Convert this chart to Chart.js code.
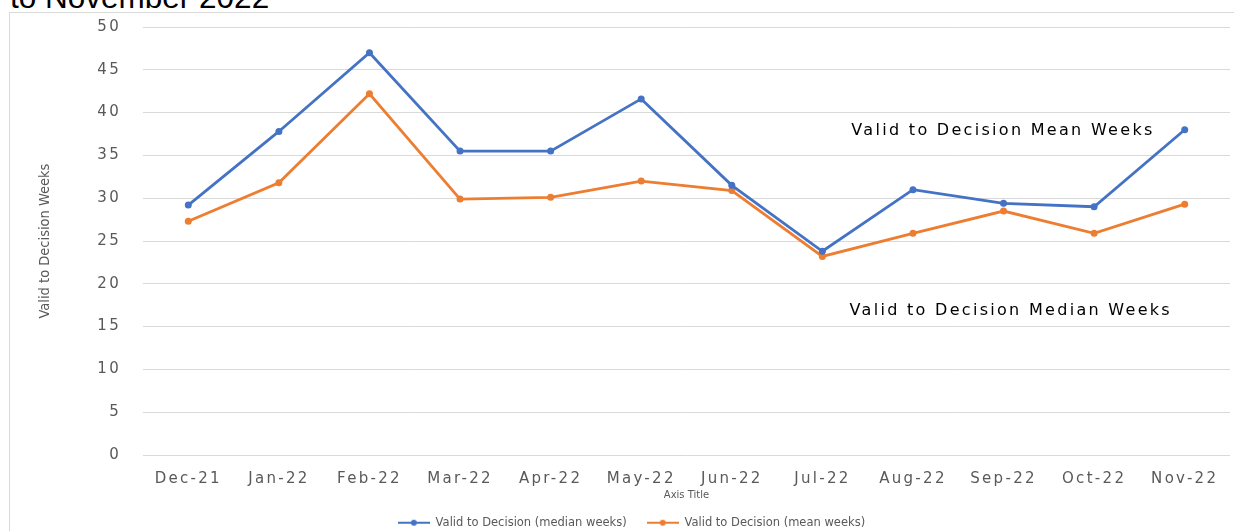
<!DOCTYPE html>
<html>
<head>
<meta charset="utf-8">
<script src="https://cdn.jsdelivr.net/npm/chart.js@4.4.1/dist/chart.umd.min.js"></script>
<style>
    body { margin: 0; background: #fff; overflow: hidden; }
    #wrap { position: relative; width: 1234px; height: 531px; }
    #title { position: absolute; left: 10px; top: -16px; font: 31.5px 'Liberation Sans', Arial, sans-serif; line-height: 26px; color: #000; white-space: nowrap; }
    #frame { position: absolute; left: 9px; top: 12px; width: 1240px; height: 540px; border: 1px solid #d9d9d9; box-sizing: border-box; }
    #chart { position: absolute; left: 0; top: 0; }
</style>
</head>
<body>
<div id="wrap">
    <div id="frame"></div>
    <div id="title">to November 2022</div>
    <canvas id="chart" width="1234" height="531"></canvas>
</div>
<script>
// categories and values
const months = ['Dec-21', 'Jan-22', 'Feb-22', 'Mar-22', 'Apr-22', 'May-22', 'Jun-22', 'Jul-22', 'Aug-22', 'Sep-22', 'Oct-22', 'Nov-22'];
const medianWeeks = [29.2, 37.8, 47.0, 35.5, 35.5, 41.6, 31.5, 23.8, 31.0, 29.4, 29.0, 38.0];
const meanWeeks = [27.3, 31.8, 42.2, 29.9, 30.1, 32.0, 30.9, 23.2, 25.9, 28.5, 25.9, 29.3];
const seriesNames = ['Valid to Decision (median weeks)', 'Valid to Decision (mean weeks)'];
const notes = ['Valid to Decision Mean Weeks', 'Valid to Decision Median Weeks'];

const BLUE = '#4472c4';
const ORANGE = '#ed7d31';
const GREY = '#595959';
const SPACED = '2.3px';

function legendMarker(color) {
    const c = document.createElement('canvas');
    c.width = 32; c.height = 8;
    const g = c.getContext('2d');
    g.strokeStyle = color;
    g.lineWidth = 2;
    g.beginPath(); g.moveTo(0, 4); g.lineTo(32, 4); g.stroke();
    g.fillStyle = color;
    g.beginPath(); g.arc(16, 4, 3, 0, Math.PI * 2); g.fill();
    return c;
}
const markers = [legendMarker(BLUE), legendMarker(ORANGE)];

// letter spacing only for tick labels and the two notes (drawn after datasets)
const spacing = {
    id: 'spacing',
    beforeDraw(chart) { chart.ctx.letterSpacing = '0px'; },
    afterDatasetsDraw(chart) { chart.ctx.letterSpacing = SPACED; },
    afterDraw(chart) {
        const { ctx, scales: { x, y } } = chart;
        ctx.save();
        ctx.letterSpacing = SPACED;
        ctx.font = '16px "DejaVu Sans", sans-serif';
        ctx.fillStyle = '#000';
        ctx.textAlign = 'left';
        ctx.textBaseline = 'middle';
        ctx.fillText(notes[0], x.getPixelForValue(7.32), y.getPixelForValue(37.85));
        ctx.fillText(notes[1], x.getPixelForValue(7.30), y.getPixelForValue(16.8));
        ctx.restore();
        ctx.letterSpacing = '0px';
    }
};

new Chart(document.getElementById('chart').getContext('2d'), {
    type: 'line',
    data: {
        labels: months,
        datasets: [{
            label: seriesNames[0],
            data: medianWeeks,
            borderColor: BLUE,
            backgroundColor: BLUE,
            borderWidth: 2.8,
            pointRadius: 3.5,
            pointBorderWidth: 0,
            tension: 0
        }, {
            label: seriesNames[1],
            data: meanWeeks,
            borderColor: ORANGE,
            backgroundColor: ORANGE,
            borderWidth: 2.8,
            pointRadius: 3.5,
            pointBorderWidth: 0,
            tension: 0
        }]
    },
    options: {
        responsive: false,
        animation: false,
        layout: { padding: { left: 33, right: 4, top: 27, bottom: -7.5 } },
        plugins: {
            legend: {
                position: 'bottom',
                labels: {
                    usePointStyle: true,
                    pointStyleWidth: 32,
                    padding: 20,
                    color: GREY,
                    font: { family: 'DejaVu Sans', size: 11.5 },
                    generateLabels(chart) {
                        const items = Chart.defaults.plugins.legend.labels.generateLabels(chart);
                        items.forEach((it, i) => { it.pointStyle = markers[i]; });
                        return items;
                    }
                }
            },
            tooltip: { enabled: false }
        },
        scales: {
            x: {
                offset: true,
                grid: { display: false },
                border: { display: false },
                ticks: { color: GREY, padding: 7, z: 1, font: { family: 'DejaVu Sans', size: 15 } },
                title: { display: true, text: 'Axis Title', color: GREY, padding: { top: 0, bottom: -4 }, font: { family: 'DejaVu Sans', size: 10 } },
                afterFit(scale) { scale.height = 42; }
            },
            y: {
                min: 0,
                max: 50,
                grid: { color: '#d9d9d9', lineWidth: 1, drawTicks: false },
                border: { display: false },
                ticks: { stepSize: 5, color: GREY, padding: 22, z: 1, font: { family: 'DejaVu Sans', size: 15 } },
                title: { display: true, text: 'Valid to Decision Weeks', color: GREY, padding: { top: 4, bottom: 0 }, font: { family: "'Liberation Sans Narrow', 'DejaVu Sans Condensed', sans-serif", size: 14.5 } },
                afterFit(scale) { scale.width = 110; scale.paddingTop = 0; scale.paddingBottom = 0; }
            }
        }
    },
    plugins: [spacing]
});
</script>
</body>
</html>
